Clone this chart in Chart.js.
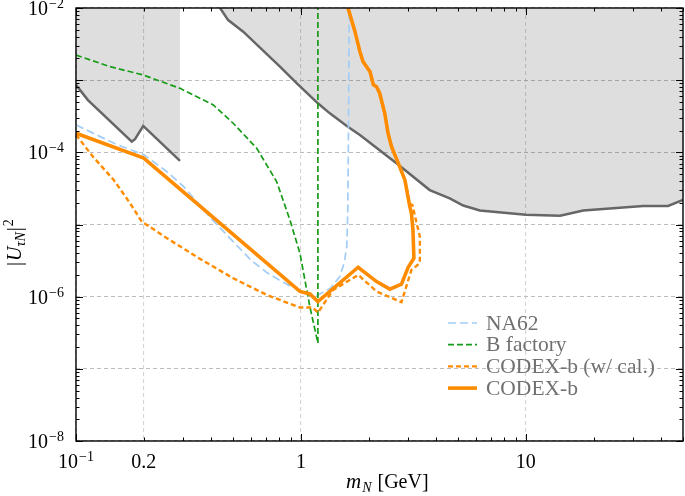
<!DOCTYPE html>
<html>
<head>
<meta charset="utf-8">
<script src="https://cdn.jsdelivr.net/npm/chart.js@4.4.1/dist/chart.umd.min.js"></script>
<style>
  body { margin: 0; background: #fff; }
  canvas { display: block; }
</style>
</head>
<body>
<canvas id="grafic" width="685" height="496"></canvas>
<script>
// Dades llegides de la figura (m_N en GeV, |U|^2)
const na62Mass = [0.1, 0.15, 0.2, 0.25, 0.3, 0.4, 0.5, 0.6, 0.7, 0.8, 0.9, 1.0, 1.17, 1.35, 1.49, 1.56, 1.6, 1.615, 1.625, 1.64];
const na62U2   = [2.4e-4, 1.3e-4, 9.3e-5, 5.6e-5, 3.4e-5, 1.2e-5, 5.8e-6, 3.2e-6, 2.2e-6, 1.7e-6, 1.4e-6, 1.22e-6, 1.03e-6, 1.3e-6, 1.9e-6, 3e-6, 5e-6, 1.5e-5, 1e-4, 1e-2];

const bfacMass = [0.1, 0.1416, 0.199, 0.29, 0.408, 0.5, 0.636, 0.78, 0.894, 0.99, 1.096, 1.19, 1.19];
const bfacU2   = [2.23e-3, 1.54e-3, 1.18e-3, 7.7e-4, 4.54e-4, 2.53e-4, 1.14e-4, 3.93e-5, 1.15e-5, 4.0e-6, 7.3e-7, 2.27e-7, 1e-2];

const codexCalMass = [0.1, 0.119, 0.147, 0.174, 0.196, 0.253, 0.356, 0.5, 0.704, 0.99, 1.13, 1.19, 1.39, 1.8, 2.17, 2.8, 3.1, 3.38, 3.38, 3.27, 3.13, 3.05, 2.9, 2.71, 2.53, 2.44, 2.36, 2.24, 2.17, 2.1, 2.03, 1.89, 1.83, 1.74, 1.62];
const codexCalU2   = [1.75e-4, 8.7e-5, 4.15e-5, 1.97e-5, 1.1e-5, 6.5e-6, 3.34e-6, 1.8e-6, 1.06e-6, 7.07e-7, 7.07e-7, 6.0e-7, 1.24e-6, 2.0e-6, 1.18e-6, 8.4e-7, 2.35e-6, 2.91e-6, 6.8e-6, 1.05e-5, 1.87e-5, 1.9e-5, 4.15e-5, 7.06e-5, 1.2e-4, 1.84e-4, 3.47e-4, 6.6e-4, 8.1e-4, 8.6e-4, 1.31e-3, 1.8e-3, 2.48e-3, 4.7e-3, 1e-2];

const codexMass = [0.1, 0.2, 0.99, 1.096, 1.19, 1.797, 2.17, 2.486, 2.8, 3.0, 3.18, 3.15, 3.1, 3.05, 2.9, 2.71, 2.53, 2.44, 2.36, 2.24, 2.17, 2.1, 2.03, 1.89, 1.83, 1.74, 1.62];
const codexU2   = [1.84e-4, 8.3e-5, 1.18e-6, 1.09e-6, 8.55e-7, 2.56e-6, 1.62e-6, 1.27e-6, 1.49e-6, 2.56e-6, 3.41e-6, 8.4e-6, 1.44e-5, 1.77e-5, 4.15e-5, 7.06e-5, 1.2e-4, 1.84e-4, 3.47e-4, 6.6e-4, 8.1e-4, 8.6e-4, 1.31e-3, 1.8e-3, 2.48e-3, 4.7e-3, 1e-2];

// regions excloses (gris)
const exclLowMass = [0.1, 0.113, 0.177, 0.183, 0.199, 0.29];
const exclLowU2   = [8.6e-4, 5.3e-4, 1.41e-4, 1.52e-4, 2.32e-4, 7.6e-5];
const exclHighMass = [0.437, 0.475, 0.554, 0.807, 0.957, 1.19, 1.345, 1.6, 1.83, 2.66, 3.74, 4.59, 5.27, 6.25, 10, 14.2, 18, 33.2, 42.9, 50];
const exclHighU2   = [1e-2, 6.8e-3, 4.7e-3, 1.54e-3, 9.1e-4, 4.78e-4, 3.47e-4, 2.32e-4, 1.74e-4, 7.07e-5, 3.0e-5, 2.3e-5, 1.83e-5, 1.56e-5, 1.36e-5, 1.32e-5, 1.56e-5, 1.81e-5, 1.81e-5, 2.19e-5];

const legendLabels = ['NA62', 'B factory', 'CODEX-b (w/ cal.)', 'CODEX-b'];

const xGridValues = [0.1, 0.2, 1, 10];
const xTickLabels = [['10', '\u22121'], ['0.2', ''], ['1', ''], ['10', '']];
const yGridValues = [1e-8, 1e-7, 1e-6, 1e-5, 1e-4, 1e-3, 1e-2];
const yTickValues = [1e-8, 1e-6, 1e-4, 1e-2];
const yTickLabels = [['10', '\u22128'], ['10', '\u22126'], ['10', '\u22124'], ['10', '\u22122']];

const SERIF = '"Liberation Serif", "DejaVu Serif", serif';

function punts(xs, ys) {
    return xs.map((x, i) => ({ x: x, y: ys[i] }));
}

// dibuixa un text amb exponent
function textExp(ctx, x, y, base, sup, align) {
    ctx.font = '20px ' + SERIF;
    const wb = ctx.measureText(base).width;
    ctx.font = '14px ' + SERIF;
    const ws = sup ? ctx.measureText(sup).width + 1 : 0;
    let x0 = x;
    if (align === 'center') x0 = x - (wb + ws) / 2;
    if (align === 'right') x0 = x - wb - ws;
    ctx.textAlign = 'left';
    ctx.textBaseline = 'alphabetic';
    ctx.font = '20px ' + SERIF;
    ctx.fillText(base, x0, y);
    if (sup) {
        ctx.font = '14px ' + SERIF;
        ctx.fillText(sup, x0 + wb + 1, y - 7);
    }
}

const decoracio = {
    id: 'decoracio',
    afterDraw(chart) {
        const { ctx, chartArea: a, scales: { x, y } } = chart;
        ctx.save();
        ctx.strokeStyle = '#000';
        ctx.lineWidth = 1;
        // marques cap endins als quatre costats
        for (let e = -1; e <= 1; e++) {
            for (let k = 1; k <= 9; k++) {
                const v = k * Math.pow(10, e);
                if (v < 0.1 || v > 50) continue;
                const px = Math.round(x.getPixelForValue(v)) + 0.5;
                const len = k === 1 ? 7 : 3.5;
                ctx.beginPath();
                ctx.moveTo(px, a.bottom); ctx.lineTo(px, a.bottom - len);
                ctx.moveTo(px, a.top); ctx.lineTo(px, a.top + len);
                ctx.stroke();
            }
        }
        for (let e = -8; e <= -2; e++) {
            for (let k = 1; k <= 9; k++) {
                const v = k * Math.pow(10, e);
                if (v > 1.0001e-2) continue;
                const py = Math.round(y.getPixelForValue(v)) + 0.5;
                const len = k === 1 ? 7 : 3.5;
                ctx.beginPath();
                ctx.moveTo(a.left, py); ctx.lineTo(a.left + len, py);
                ctx.moveTo(a.right, py); ctx.lineTo(a.right - len, py);
                ctx.stroke();
            }
        }
        // marc
        ctx.lineWidth = 1.4;
        ctx.strokeRect(a.left, a.top, a.right - a.left, a.bottom - a.top);

        // etiquetes
        ctx.fillStyle = '#000';
        xGridValues.forEach((v, i) => {
            textExp(ctx, x.getPixelForValue(v), a.bottom + 27, xTickLabels[i][0], xTickLabels[i][1], 'center');
        });
        yTickValues.forEach((v, i) => {
            textExp(ctx, a.left - 12, y.getPixelForValue(v) + 7, yTickLabels[i][0], yTickLabels[i][1], 'right');
        });

        // títol eix x: m_N [GeV]
        ctx.textAlign = 'left';
        ctx.textBaseline = 'alphabetic';
        let tx = 346, ty = 488;
        ctx.font = 'italic 21px ' + SERIF;
        ctx.fillText('m', tx, ty); tx += ctx.measureText('m').width + 1;
        ctx.font = 'italic 14px ' + SERIF;
        ctx.fillText('N', tx, ty + 4); tx += ctx.measureText('N').width + 6;
        ctx.font = '20px ' + SERIF;
        ctx.fillText('[GeV]', tx, ty);

        // títol eix y: |U_τN|^2
        ctx.save();
        ctx.translate(21, 266);
        ctx.rotate(-Math.PI / 2);
        let ux = 0;
        ctx.font = '20px ' + SERIF;
        ctx.fillText('|', ux, 0); ux += ctx.measureText('|').width + 1;
        ctx.font = 'italic 20px ' + SERIF;
        ctx.fillText('U', ux, 0); ux += ctx.measureText('U').width;
        ctx.font = 'italic 14px ' + SERIF;
        ctx.fillText('\u03c4N', ux, 4); ux += ctx.measureText('\u03c4N').width + 1;
        ctx.font = '20px ' + SERIF;
        ctx.fillText('|', ux, 0); ux += ctx.measureText('|').width + 1;
        ctx.font = '14px ' + SERIF;
        ctx.fillText('2', ux, -8);
        ctx.restore();

        // llegenda
        const lx = 448, lw = 29;
        let ly = 323;
        legendLabels.forEach((lab) => {
            const ds = chart.data.datasets.find(d => d.label === lab);
            ctx.save();
            ctx.strokeStyle = ds.borderColor;
            ctx.lineWidth = ds.borderWidth;
            ctx.setLineDash(ds.borderDash || []);
            ctx.beginPath();
            ctx.moveTo(lx, ly); ctx.lineTo(lx + lw, ly);
            ctx.stroke();
            ctx.restore();
            ctx.fillStyle = '#707070';
            ctx.font = '21.5px ' + SERIF;
            ctx.textBaseline = 'middle';
            ctx.fillText(lab, 486, ly + 1);
            ly += 21.7;
        });
        ctx.restore();
    }
};

new Chart(document.getElementById('grafic'), {
    type: 'scatter',
    data: {
        datasets: [
            {
                label: 'CODEX-b',
                data: punts(codexMass, codexU2),
                showLine: true, pointRadius: 0,
                borderColor: '#ff8c00', borderWidth: 3.6
            },
            {
                label: 'CODEX-b (w/ cal.)',
                data: punts(codexCalMass, codexCalU2),
                showLine: true, pointRadius: 0,
                borderColor: '#ff8c00', borderWidth: 2.4, borderDash: [5, 3]
            },
            {
                label: 'B factory',
                data: punts(bfacMass, bfacU2),
                showLine: true, pointRadius: 0,
                borderColor: '#179c17', borderWidth: 1.7, borderDash: [6, 3]
            },
            {
                label: 'NA62',
                data: punts(na62Mass, na62U2),
                showLine: true, pointRadius: 0,
                borderColor: '#a3cdf6', borderWidth: 1.7, borderDash: [8, 4]
            },
            {
                data: punts(exclHighMass, exclHighU2),
                showLine: true, pointRadius: 0,
                borderColor: '#666666', borderWidth: 2.5,
                backgroundColor: 'rgba(0,0,0,0.13)', fill: 'end'
            },
            {
                data: punts(exclLowMass, exclLowU2),
                showLine: true, pointRadius: 0,
                borderColor: '#666666', borderWidth: 2.5,
                backgroundColor: 'rgba(0,0,0,0.13)', fill: 'end'
            }
        ]
    },
    options: {
        responsive: false,
        animation: false,
        layout: { padding: { left: 76, right: 2, top: 8, bottom: 55 } },
        plugins: { legend: { display: false }, tooltip: { enabled: false } },
        scales: {
            x: {
                type: 'logarithmic', min: 0.1, max: 50,
                afterBuildTicks: (s) => { s.ticks = xGridValues.map(v => ({ value: v })); },
                ticks: { display: false },
                grid: { color: '#d4d4d4', lineWidth: 1.1, drawTicks: false },
                border: { display: false, dash: [4, 3] }
            },
            y: {
                type: 'logarithmic', min: 1e-8, max: 1e-2,
                afterBuildTicks: (s) => { s.ticks = yGridValues.map(v => ({ value: v })); },
                ticks: { display: false },
                grid: { color: '#bdbdbd', lineWidth: 1.1, drawTicks: false },
                border: { display: false, dash: [4, 3] }
            }
        }
    },
    plugins: [decoracio]
});
</script>
</body>
</html>
